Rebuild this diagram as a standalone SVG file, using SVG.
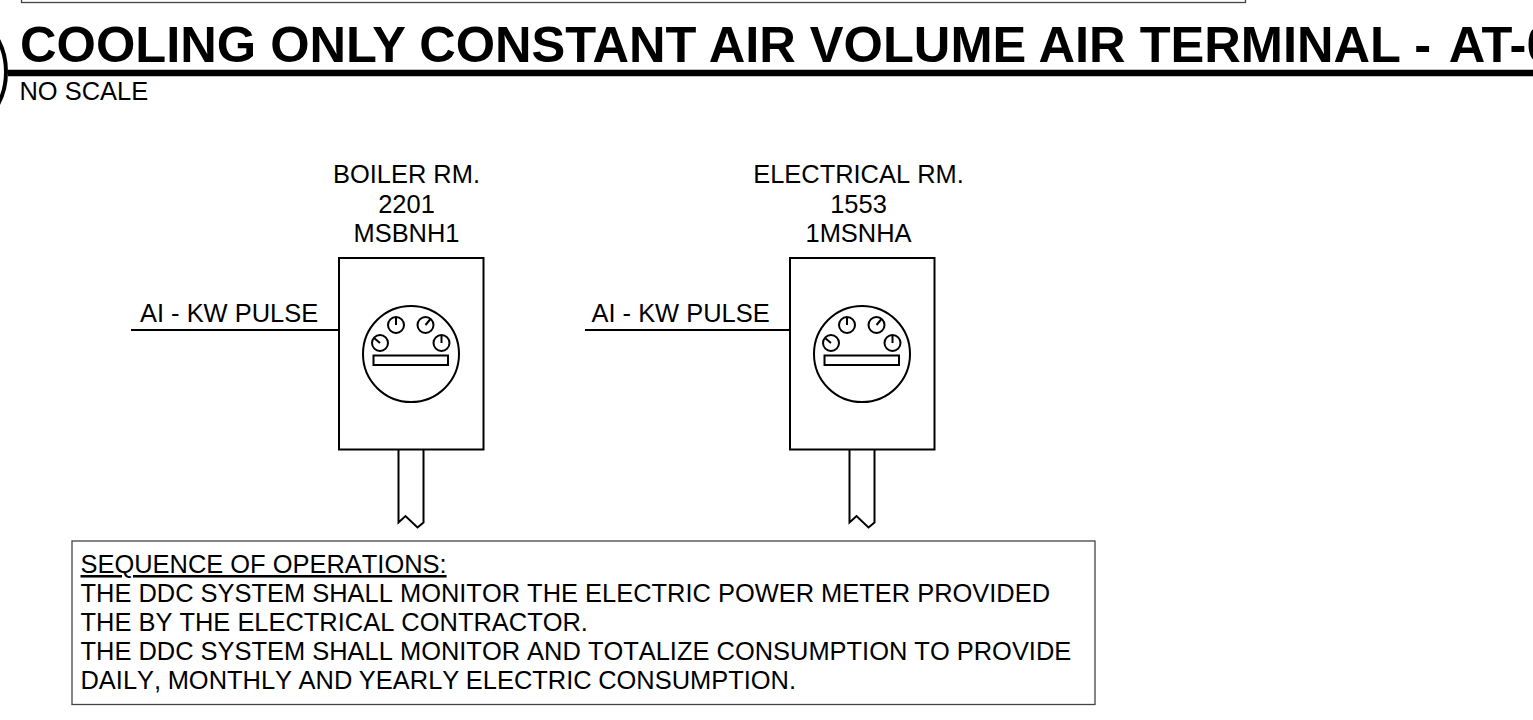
<svg xmlns="http://www.w3.org/2000/svg" width="1533" height="720" viewBox="0 0 1533 720">
<defs>
<style>
text{font-family:"Liberation Sans",Arial,sans-serif;fill:#000;font-kerning:none}
.t{font-size:25.45px}
.m{text-anchor:middle}
.l{fill:none;stroke:#000;stroke-width:2}
.th{fill:none;stroke:#444;stroke-width:1.3}
</style>
<g id="meter">
<rect class="l" x="339" y="258" width="144.500" height="191.500"/>
<circle class="l" cx="411" cy="354" r="48"/>
<rect class="l" x="373.500" y="355.500" width="74.500" height="9.500"/>
<circle class="l" cx="380" cy="343" r="8"/><path class="l" d="M380 343l-6 -5"/>
<circle class="l" cx="396" cy="325" r="8"/><path class="l" d="M396 325v-7.500"/>
<circle class="l" cx="425.500" cy="325" r="8"/><path class="l" d="M425.500 325l5 -6"/>
<circle class="l" cx="441.500" cy="343" r="8"/><path class="l" d="M441.500 343v-7.500"/>
<path class="l" d="M398.500 450v72.500l7 -6.500l12 11.500l6 -5v-72.500"/>
</g>
</defs>
<g id="title">
<rect class="th" x="21.500" y="-10" width="1224" height="12.500"/>
<text x="20" y="62" font-weight="bold" font-size="50.600px" style="font-kerning:normal">COOLING ONLY CONSTANT AIR VOLUME AIR TERMINAL - <tspan dx="5.500">AT-0</tspan></text>
<path d="M8 73H1533" stroke="#000" stroke-width="6.500" fill="none"/>
<circle cx="-62" cy="72" r="68" fill="none" stroke="#000" stroke-width="4"/>
<text x="19.500" y="100" class="t">NO SCALE</text>
</g>
<g id="meter-boiler">
<use href="#meter"/>
<text class="t m" x="406.500" y="183">BOILER RM.</text>
<text class="t m" x="406.500" y="213">2201</text>
<text class="t m" x="406.500" y="242">MSBNH1</text>
<text class="t" x="140" y="322">AI - KW PULSE</text>
</g>
<g id="meter-electrical">
<use href="#meter" x="451"/>
<text class="t m" x="858.500" y="183">ELECTRICAL RM.</text>
<text class="t m" x="858.500" y="213">1553</text>
<text class="t m" x="858.500" y="242">1MSNHA</text>
<text class="t" x="591.500" y="322">AI - KW PULSE</text>
</g>
<g id="connectors">
<path class="l" d="M131 330H339"/>
<path class="l" d="M585 330H790"/>
</g>
<g id="sequence-note">
<rect class="th" x="72" y="541" width="1023" height="163.500"/>
<text class="t" x="80.500" y="573" style="text-decoration:underline;text-decoration-thickness:2.5px;text-underline-offset:4px">SEQUENCE OF OPERATIONS:</text>
<text class="t" x="80.500" y="602">THE DDC SYSTEM SHALL MONITOR THE ELECTRIC POWER METER PROVIDED</text>
<text class="t" x="80.500" y="631">THE BY THE ELECTRICAL CONTRACTOR.</text>
<text class="t" x="80.500" y="660">THE DDC SYSTEM SHALL MONITOR AND TOTALIZE CONSUMPTION TO PROVIDE</text>
<text class="t" x="80.500" y="689" word-spacing="-0.500">DAILY, MONTHLY AND YEARLY ELECTRIC CONSUMPTION.</text>
</g>
</svg>
